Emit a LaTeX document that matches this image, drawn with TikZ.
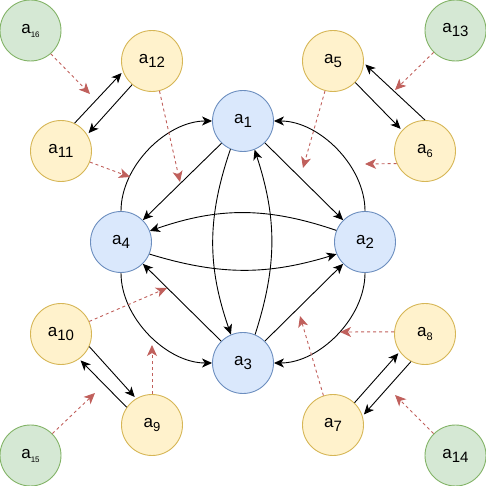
\documentclass[tikz,border=0pt]{standalone}
\usepackage{fontspec}
\setmainfont{Liberation Sans}
\usetikzlibrary{arrows.meta}
\definecolor{bfill}{HTML}{DAE8FC}\definecolor{bline}{HTML}{6C8EBF}
\definecolor{yfill}{HTML}{FFF2CC}\definecolor{yline}{HTML}{D6B656}
\definecolor{gfill}{HTML}{D5E8D4}\definecolor{gline}{HTML}{82B366}
\definecolor{rline}{HTML}{C0605C}
\newcommand\mylab[2][15]{{\fontsize{17}{17}\selectfont a}\raisebox{-4pt}{\fontsize{#1}{#1}\selectfont #2}}
\begin{document}
\begin{tikzpicture}[x=1pt,y=1pt,
  vtx/.style={circle, line width=0.9pt, minimum size=61pt, inner sep=0pt},
  bnode/.style={vtx, fill=bfill, draw=bline},
  ynode/.style={vtx, fill=yfill, draw=yline},
  gnode/.style={vtx, fill=gfill, draw=gline},
  arr/.style={-{Stealth[length=10pt,width=9pt,inset=2.8pt]}, line width=0.9pt, black},
  rarr/.style={-{Stealth[length=11pt,width=10pt,inset=3pt]}, line width=0.9pt, rline, dash pattern=on 3pt off 3pt}]
\useasboundingbox (0,0) rectangle (486,486);
% main nodes
\node[bnode] (a1) at (243,365) {\mylab{1}};
\node[bnode] (a2) at (365,244) {\mylab{2}};
\node[bnode] (a3) at (243,123) {\mylab{3}};
\node[bnode] (a4) at (121,244) {\mylab{4}};
% yellow nodes
\node[ynode] (a5) at (333,425) {\mylab{5}};
\node[ynode] (a6) at (425,335) {\mylab[11]{6}};
\node[ynode] (a7) at (333,61) {\mylab{7}};
\node[ynode] (a8) at (425,152) {\mylab[11]{8}};
\node[ynode] (a9) at (152,61) {\mylab[13]{9}};
\node[ynode] (a10) at (61,152) {\mylab{10}};
\node[ynode] (a11) at (61,335) {\mylab{11}};
\node[ynode] (a12) at (152,425) {\mylab{12}};
% green nodes
\node[gnode] (a13) at (455.5,455.5) {\mylab{13}};
\node[gnode] (a14) at (455.5,30.5) {\mylab{14}};
\node[gnode] (a15) at (30.5,30.5) {\mylab[8]{15}};
\node[gnode] (a16) at (30.5,455.5) {\mylab[8]{16}};
% free ends of red arrows
\coordinate (c1) at (90,392);
\coordinate (c2) at (180,304);
\coordinate (c3) at (130,309);
\coordinate (c4) at (395,396);
\coordinate (c5) at (303,318);
\coordinate (c6) at (365,322);
\coordinate (c7) at (167,198);
\coordinate (c8) at (152,141);
\coordinate (c9) at (95,93);
\coordinate (c10) at (340,154);
\coordinate (c11) at (300,170);
\coordinate (c12) at (395,91);
% straight main edges
\draw[arr] (a1.226) -- (a4.45);
\draw[arr] (a1.315) -- (a2.135);
\draw[arr] (a3.45) -- (a2.225);
\draw[arr] (a3.135) -- (a4.315);
% outer curves
\draw[arr] (a4.north) to[out=90,in=180,looseness=0.9] (a1.west);
\draw[arr] (a2.north) to[out=90,in=0,looseness=0.9] (a1.east);
\draw[arr] (a2.south) to[out=270,in=0,looseness=0.9] (a3.east);
\draw[arr] (a4.south) to[out=270,in=180,looseness=0.9] (a3.west);
% inner arcs
\draw[arr] (a2.158) to[bend right=19] (a4.21);
\draw[arr] (a4.337) to[bend right=17] (a2.203);
\draw[arr] (a1.246) to[bend right=19] (a3.113);
\draw[arr] (a3.67) to[bend right=18] (a1.292);
% parallel pairs
\draw[arr, shorten >=2pt] (a11.64) -- (a12.200);
\draw[arr, shorten >=2pt] (a12.230) -- (a11.32);
\draw[arr, shorten >=2pt] (a5.316) -- (a6.138);
\draw[arr, shorten >=2pt] (a6.90) -- (a5.356);
\draw[arr, shorten >=2pt] (a10.336) -- (a9.121);
\draw[arr, shorten >=2pt] (a9.145) -- (a10.306);
\draw[arr, shorten >=2pt] (a7.46) -- (a8.215);
\draw[arr, shorten >=2pt] (a8.243) -- (a7.17);
% red dashed arrows
\draw[rarr] (a16.311) -- (c1);
\draw[rarr] (a12.284) -- (c2);
\draw[rarr] (a11.339) -- (c3);
\draw[rarr] (a13.225) -- (c4);
\draw[rarr] (a5.255) -- (c5);
\draw[rarr] (a6.204) -- (c6);
\draw[rarr] (a10.24) -- (c7);
\draw[rarr] (a9.north) -- (c8);
\draw[rarr] (a15.45) -- (c9);
\draw[rarr] (a8.176) -- (c10);
\draw[rarr] (a7.108) -- (c11);
\draw[rarr] (a14.135) -- (c12);
\end{tikzpicture}
\end{document}
